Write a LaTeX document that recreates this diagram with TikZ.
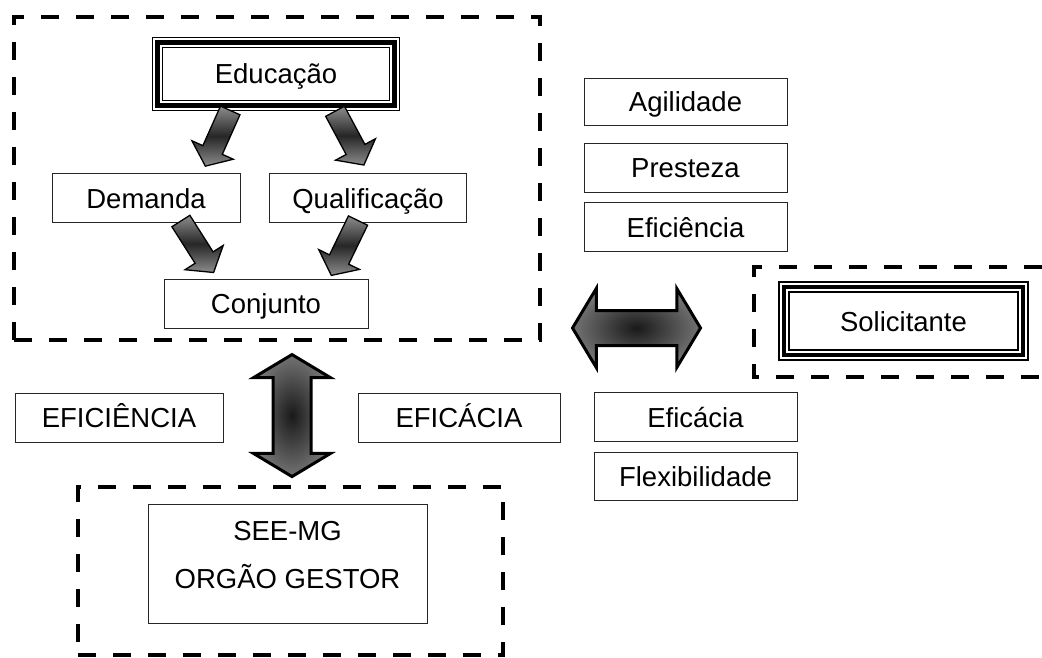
\documentclass[tikz,border=0pt]{standalone}
\usepackage{fontspec}
\setmainfont{Liberation Sans}
\usetikzlibrary{shapes.arrows}

\begin{document}
\begin{tikzpicture}[x=1pt, y=-1pt,
  every node/.style={font=\fontsize{27.5pt}{33pt}\selectfont, outer sep=0pt},
  caixa/.style={draw=black!85, line width=0.9pt, minimum height=49pt, text height=20pt, text depth=0pt},
  triplo/.style={draw, line width=1.2pt, text height=20pt, text depth=0pt},
  grupo/.style={draw, line width=4.5pt, dash pattern=on 18pt off 17pt},
  seta/.style={single arrow, draw, line width=1.3pt, inner sep=0pt, inner ysep=10pt, minimum height=61pt,
    single arrow head extend=12pt, single arrow tip angle=104,
    top color=black!45, bottom color=black!45, middle color=black!85},
  dupla/.style={double arrow, draw, line width=3pt, inner sep=0pt, double arrow tip angle=118,
    inner color=black!90, outer color=black!55}]

\useasboundingbox (0,0) rectangle (1042,658);

% grupos tracejados
\node[grupo, minimum width=526pt, minimum height=323pt] (g1) at (277,178.5) {};
\node[grupo, minimum width=425pt, minimum height=168pt] (g3) at (290.5,571) {};
\draw[grupo] (1042,267) -- (754,267) -- (754,377) -- (1042,377);
\coordinate (gsol) at (754,328);

% Educacao
\node[triplo, minimum width=247pt, minimum height=73pt] (edu) at (276,74) {Educação};
\draw[line width=4.5pt] ([shift={(4.8pt,-4.8pt)}]edu.north west) rectangle ([shift={(-4.8pt,4.8pt)}]edu.south east);
\draw[line width=1.2pt] ([shift={(10pt,-10pt)}]edu.north west) rectangle ([shift={(-10pt,10pt)}]edu.south east);
\node[caixa, minimum width=188pt] (dem) at (146,198) {Demanda};
\node[caixa, minimum width=197pt] (qua) at (368,198) {Qualificação};
\node[caixa, minimum width=204pt] (con) at (266,303.5) {Conjunto};

\path ([shift={(-44pt,4pt)}]edu.south) -- node[seta, sloped, allow upside down] (s1) {} ([shift={(61pt,11pt)}]dem.north);
\path ([shift={(57pt,3pt)}]edu.south) -- node[seta, sloped, allow upside down] (s2) {} ([shift={(-6pt,12pt)}]qua.north);
\path ([shift={(32pt,6pt)}]dem.south) -- node[seta, sloped, allow upside down] (s3) {} ([shift={(-54pt,9pt)}]con.north);
\path ([shift={(-8pt,6pt)}]qua.south) -- node[seta, sloped, allow upside down] (s4) {} ([shift={(67pt,7pt)}]con.north);

% atributos
\node[caixa, minimum width=203pt, minimum height=47pt] (agi) at (685.5,102) {Agilidade};
\node[caixa, minimum width=203pt] (pre) at (685.5,167.5) {Presteza};
\node[caixa, minimum width=203pt] (efi) at (685.5,227) {Eficiência};

% Solicitante
\node[triplo, minimum width=249pt, minimum height=78pt] (sol) at (903.5,321) {Solicitante};
\draw[line width=4.5pt] ([shift={(4.8pt,-4.8pt)}]sol.north west) rectangle ([shift={(-4.8pt,4.8pt)}]sol.south east);
\draw[line width=1.2pt] ([shift={(10pt,-10pt)}]sol.north west) rectangle ([shift={(-10pt,10pt)}]sol.south east);

\path ([yshift=12pt]g1.south east) -- node[dupla, pos=0.451, minimum height=128pt, inner ysep=16pt, double arrow head extend=22pt] (hseta) {} (gsol);
\path ([xshift=15pt]g1.south) -- node[dupla, sloped, pos=0.514, minimum height=122pt, inner ysep=17.5pt, double arrow head extend=19.5pt] (vseta) {} ([xshift=1.5pt]g3.north);

\node[caixa, minimum width=208pt] (efn) at (119,417.5) {EFICIÊNCIA};
\node[caixa, minimum width=202pt] (efc) at (459,417.5) {EFICÁCIA};
\node[caixa, minimum width=203pt] (efa) at (695.5,417) {Eficácia};
\node[caixa, minimum width=203pt, minimum height=48pt] (fle) at (695.5,476) {Flexibilidade};

% orgao gestor
\node[caixa, minimum width=279pt, minimum height=119pt] (see) at (287.5,563.5) {};
\node[align=center, font=\fontsize{27.5pt}{48pt}\selectfont] (seetxt) at (287.5,555) {SEE-MG\\ORGÃO GESTOR};

\end{tikzpicture}
\end{document}
